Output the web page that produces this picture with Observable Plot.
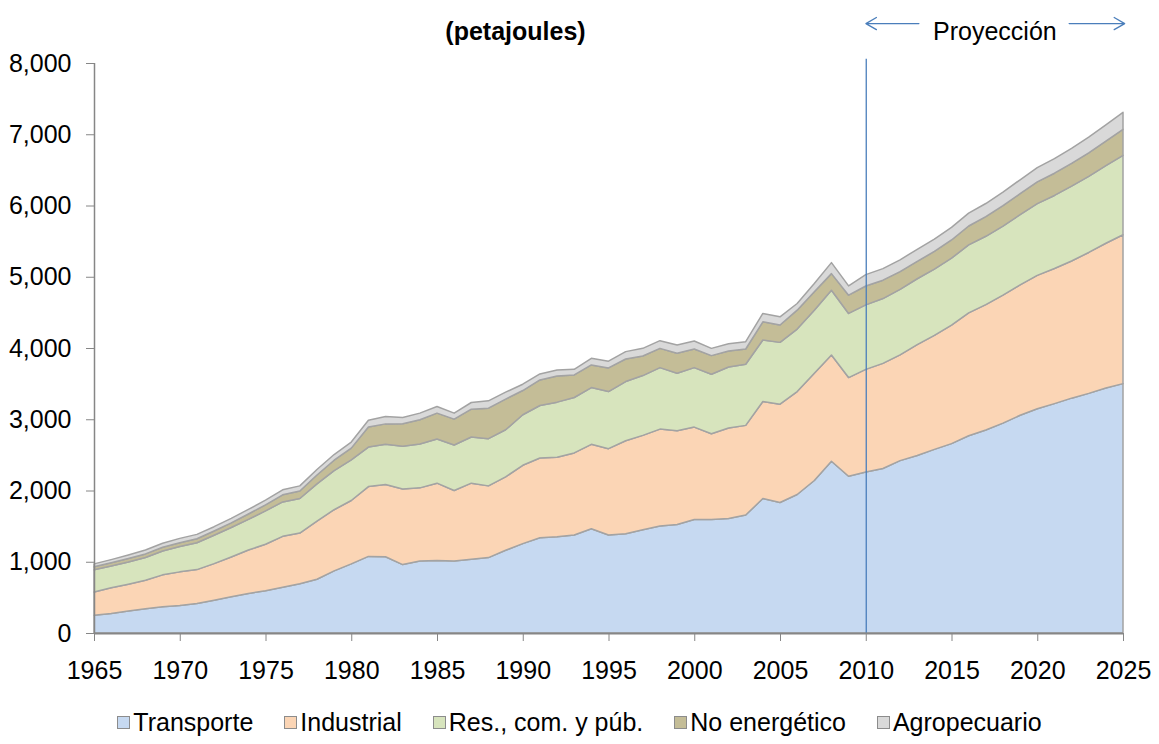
<!DOCTYPE html>
<html><head><meta charset="utf-8">
<script src="https://cdn.jsdelivr.net/npm/d3@7"></script>
<script src="https://cdn.jsdelivr.net/npm/@observablehq/plot@0.6"></script>
<style>
body{margin:0;background:#fff;font-family:"Liberation Sans",Arial,sans-serif;}
#legend{height:44px;display:flex;justify-content:center;align-items:center;gap:31px;font-size:25px;color:#000;}
.item{display:flex;align-items:center;gap:3px;white-space:pre;}
.sw{width:11px;height:11px;border:1px solid #8c8c8c;}
</style></head><body><div id="chart"></div><div id="legend"></div>
<script>
const years = [1965,1966,1967,1968,1969,1970,1971,1972,1973,1974,1975,1976,1977,1978,1979,1980,
1981,1982,1983,1984,1985,1986,1987,1988,1989,1990,1991,1992,1993,1994,1995,
1996,1997,1998,1999,2000,2001,2002,2003,2004,2005,2006,2007,2008,2009,2010,
2011,2012,2013,2014,2015,2016,2017,2018,2019,2020,2021,2022,2023,2024,2025];

const series = ["Transporte","Industrial","Res., com. y púb.","No energético","Agropecuario"];
const colors = ["#c6d9f1","#fbd5b5","#d7e4bd","#c4bd97","#d9d9d9"];

const transporte = [250,275,310,340,368,387,415,461,508,555,592,643,690,755,872,970,
1075,1070,960,1012,1016,1012,1035,1058,1161,1254,1338,1352,1375,1464,1375,
1394,1450,1501,1524,1594,1594,1608,1655,1888,1832,1944,2140,2410,2200,2261,
2309,2419,2491,2577,2658,2769,2850,2946,3056,3147,3219,3296,3363,3439,3500];

const industrial = [325,359,375,401,448,471,475,513,559,610,653,714,713,816,858,890,
980,1015,1060,1025,1087,988,1068,1007,1030,1100,1119,1114,1152,1184,1212,
1305,1324,1361,1315,1296,1203,1268,1259,1361,1380,1445,1506,1492,1385,1439,
1475,1485,1557,1600,1663,1724,1758,1796,1830,1873,1897,1925,1978,2031,2090];

const residencial = [313,306,312,319,335,355,376,398,413,430,469,483,485,522,550,570,
555,565,600,616,620,639,648,662,662,709,736,774,778,797,802,
830,839,863,807,835,835,858,858,863,867,877,885,909,900,905,
910,919,924,930,940,954,960,970,985,1006,1025,1050,1068,1090,1115];

const noEnergetico = [42,45,48,50,52,55,57,60,66,75,85,100,105,125,145,165,
280,285,317,340,363,363,391,429,429,340,359,368,317,317,331,
317,275,270,279,261,261,224,214,256,243,265,257,233,256,265,
258,250,245,248,255,265,275,285,295,305,312,320,330,345,365];

const agropecuario = [40,45,50,55,57,60,61,60,62,64,66,70,72,76,80,85,
95,105,89,93,93,84,93,103,98,89,84,84,79,93,95,
103,107,108,117,112,102,103,103,117,116,94,116,154,131,160,
162,165,168,172,176,180,185,190,195,200,206,212,220,228,238];

const yTicks = [0,1000,2000,3000,4000,5000,6000,7000,8000];
const xTicks = [1965,1970,1975,1980,1985,1990,1995,2000,2005,2010,2015,2020,2025];

const values = [transporte, industrial, residencial, noEnergetico, agropecuario];
const table = [];
series.forEach((s, i) => years.forEach((y, j) => table.push({year: y, series: s, value: values[i][j]})));

const font = '"Liberation Sans", Arial, sans-serif';
const chart = Plot.plot({
  width: 1159, height: 700,
  marginTop: 63, marginBottom: 67, marginLeft: 94, marginRight: 36,
  style: {fontFamily: font, fontSize: "25px", color: "#000", background: "#fff", overflow: "visible"},
  x: {domain: [1965, 2025]},
  y: {domain: [0, 8000]},
  color: {domain: series, range: colors},
  marks: [
    Plot.areaY(table, {x: "year", y: "value", fill: "series", z: "series", order: series,
      stroke: "#a3a3a3", strokeWidth: 1.5, strokeLinejoin: "round"}),
    Plot.ruleX([2010], {y1: 0, y2: 8060, stroke: "#4a7ebb", strokeWidth: 1.3}),
    Plot.ruleY([0], {x1: 1965, x2: 2025, stroke: "#868686", strokeWidth: 2}),
    Plot.ruleX([1965], {y1: 0, y2: 8000, stroke: "#868686", strokeWidth: 1.5}),
    Plot.axisY({ticks: yTicks, tickFormat: d3.format(","), tickSize: 8, tickPadding: 15,
      stroke: "#868686", label: null, fontSize: 25}),
    Plot.axisX({ticks: xTicks, tickFormat: "d", tickSize: 8, tickPadding: 20,
      stroke: "#868686", label: null, fontSize: 25}),
    Plot.text(["(petajoules)"], {frameAnchor: "top-left", text: d => d, dx: 421, dy: -41,
      textAnchor: "middle", fontWeight: "bold", fontSize: 25}),
    Plot.text(["Proyección"], {x: [2017.5], frameAnchor: "top", text: d => d, dy: -41,
      textAnchor: "middle", fontSize: 25}),
    Plot.arrow([0], {x1: [2013.07], x2: [2009.98], y1: [8560], y2: [8560],
      stroke: "#4a7ebb", strokeWidth: 1.3, headLength: 14}),
    Plot.arrow([0], {x1: [2021.83], x2: [2025.07], y1: [8560], y2: [8560],
      stroke: "#4a7ebb", strokeWidth: 1.3, headLength: 14})
  ]
});
document.getElementById("chart").appendChild(chart);

const legend = document.getElementById("legend");
series.forEach((s, i) => {
  const item = document.createElement("div");
  item.className = "item";
  const sw = document.createElement("div");
  sw.className = "sw";
  sw.style.background = colors[i];
  const t = document.createElement("span");
  t.textContent = s;
  item.appendChild(sw);
  item.appendChild(t);
  legend.appendChild(item);
});
</script></body></html>
